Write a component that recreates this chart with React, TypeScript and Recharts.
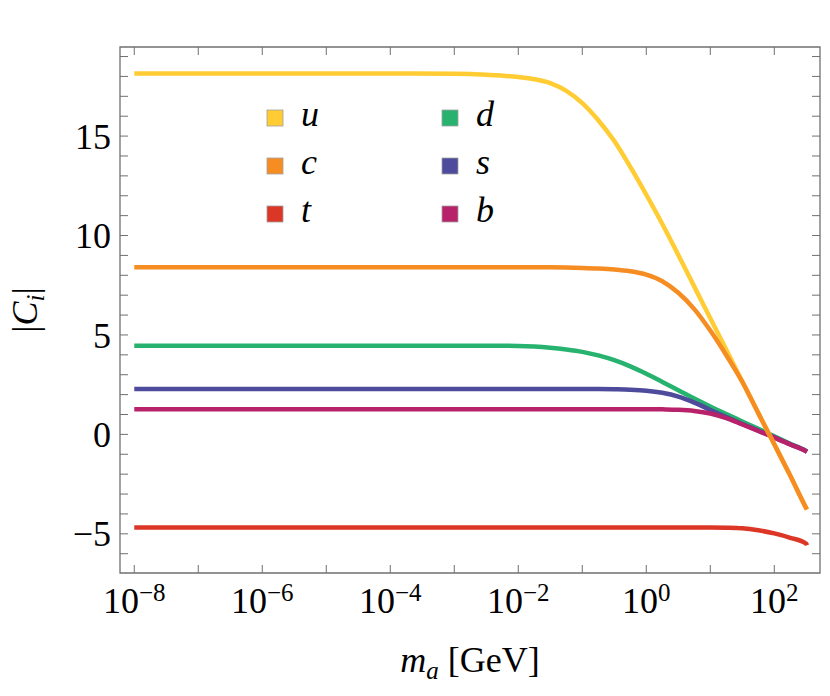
import { LineChart, Line, XAxis, YAxis, ReferenceArea, Legend } from 'recharts';

// log10(m_a / GeV) sample points
const LOG_MASS = [-8, -6, -4, -3, -2.5, -2, -1.75, -1.5, -1.25, -1, -0.75, -0.5, -0.25, 0, 0.25, 0.5, 0.75, 1, 1.25, 1.5, 1.75, 2, 2.25, 2.5, 2.51];

const C_U = [18.15, 18.15, 18.15, 18.13, 18.08, 17.97, 17.86, 17.66, 17.27, 16.66, 15.8, 14.75, 13.45, 12.05, 10.58, 9.02, 7.43, 5.84, 4.25, 2.66, 1.07, -0.5, -2.08, -3.72, -3.78];
const C_C = [8.4, 8.4, 8.4, 8.4, 8.4, 8.4, 8.4, 8.4, 8.39, 8.37, 8.34, 8.29, 8.2, 8.03, 7.7, 7.12, 6.3, 5.22, 3.98, 2.64, 1.07, -0.5, -2.08, -3.72, -3.78];
const C_T = [-4.68, -4.68, -4.68, -4.68, -4.68, -4.68, -4.68, -4.68, -4.68, -4.68, -4.68, -4.68, -4.68, -4.68, -4.68, -4.68, -4.68, -4.68, -4.69, -4.72, -4.82, -4.98, -5.2, -5.5, -5.57];
const C_D = [4.46, 4.46, 4.46, 4.46, 4.46, 4.45, 4.42, 4.36, 4.27, 4.15, 3.97, 3.73, 3.42, 3.05, 2.64, 2.22, 1.8, 1.4, 1.02, 0.65, 0.28, -0.1, -0.47, -0.84, -0.86];
const C_S = [2.28, 2.28, 2.28, 2.28, 2.28, 2.28, 2.28, 2.28, 2.28, 2.28, 2.28, 2.27, 2.25, 2.2, 2.09, 1.9, 1.6, 1.23, 0.87, 0.52, 0.19, -0.15, -0.5, -0.85, -0.87];
const C_B = [1.27, 1.27, 1.27, 1.27, 1.27, 1.27, 1.27, 1.27, 1.27, 1.27, 1.27, 1.27, 1.27, 1.27, 1.26, 1.24, 1.18, 1.05, 0.82, 0.5, 0.17, -0.16, -0.51, -0.86, -0.88];

const X_TICKS = [-8, -7, -6, -5, -4, -3, -2, -1, 0, 1, 2];
const Y_TICKS = [-6, -5, -4, -3, -2, -1, 0, 1, 2, 3, 4, 5, 6, 7, 8, 9, 10, 11, 12, 13, 14, 15, 16, 17, 18, 19];

const X_DOMAIN = [-8.223, 2.714];
const Y_DOMAIN = [-6.97, 19.48];

const SERIES = [
  { key: 'u', color: '#FFCC33', values: C_U },
  { key: 'c', color: '#F68D23', values: C_C },
  { key: 't', color: '#DC3626', values: C_T },
  { key: 'd', color: '#27B36F', values: C_D },
  { key: 's', color: '#4E4A9C', values: C_S },
  { key: 'b', color: '#B8226A', values: C_B },
];

// order in which curves are stacked (last on top)
const DRAW_ORDER = ['t', 'd', 's', 'b', 'u', 'c'];

const W = 830;
const H = 696;
const PLOT_TOP = 47;
const PLOT_RIGHT = 820;
const FRAME = '#707070';
const FONT = '"Liberation Serif", "DejaVu Serif", serif';

const data = LOG_MASS.map((x, i) => {
  const row: Record<string, number> = { x };
  SERIES.forEach((s) => {
    row[s.key] = s.values[i];
  });
  return row;
});

function XTick(props: any) {
  const { x, y, payload } = props;
  const v = payload.value as number;
  return (
    <g>
      <line x1={x} x2={x} y1={y} y2={y - 8} stroke={FRAME} strokeWidth={1} />
      <line x1={x} x2={x} y1={PLOT_TOP} y2={PLOT_TOP + 8} stroke={FRAME} strokeWidth={1} />
      {v % 2 === 0 && (
        <text x={x} y={y + 40} textAnchor="middle" fontFamily={FONT} fontSize={36} fill="#000">
          10
          <tspan dy={-12} fontSize={25}>
            {v < 0 ? `\u2212${-v}` : v}
          </tspan>
        </text>
      )}
    </g>
  );
}

function YTick(props: any) {
  const { x, y, payload } = props;
  const v = payload.value as number;
  return (
    <g>
      <line x1={x} x2={x + 8} y1={y} y2={y} stroke={FRAME} strokeWidth={1} />
      <line x1={PLOT_RIGHT} x2={PLOT_RIGHT - 8} y1={y} y2={y} stroke={FRAME} strokeWidth={1} />
      {v % 5 === 0 && (
        <text x={x - 9} y={y} dy="0.35em" textAnchor="end" fontFamily={FONT} fontSize={36} fill="#000">
          {v < 0 ? `\u2212${-v}` : v}
        </text>
      )}
    </g>
  );
}

function QuarkLegend() {
  const cols = [
    { boxX: 267, textX: 301, keys: ['u', 'c', 't'] },
    { boxX: 442, textX: 476, keys: ['d', 's', 'b'] },
  ];
  const rows = [118, 166, 214];
  return (
    <svg width={W} height={H} style={{ position: 'absolute', left: 0, top: 0, pointerEvents: 'none' }}>
      {cols.map((col) =>
        col.keys.map((k, r) => {
          const s = SERIES.find((q) => q.key === k)!;
          return (
            <g key={k}>
              <rect x={col.boxX} y={rows[r] - 8} width={16} height={16} fill={s.color} stroke="#a0a0a0" strokeWidth={0.8} />
              <text x={col.textX} y={rows[r] + 8} fontFamily={FONT} fontStyle="italic" fontSize={36} fill="#000">
                {k}
              </text>
            </g>
          );
        })
      )}
    </svg>
  );
}

export default function App() {
  return (
    <div style={{ position: 'absolute', left: 0, top: 0, background: '#fff' }}>
      <LineChart width={W} height={H} data={data} margin={{ top: PLOT_TOP, right: W - PLOT_RIGHT, bottom: 63, left: 60 }}>
        <XAxis
          dataKey="x"
          type="number"
          domain={X_DOMAIN}
          ticks={X_TICKS}
          allowDataOverflow
          interval={0}
          height={60}
          axisLine={false}
          tickLine={false}
          tickSize={0}
          tickMargin={0}
          tick={<XTick />}
          label={{
            content: () => (
              <text x={470} y={672} textAnchor="middle" fontFamily={FONT} fontSize={36} fill="#000">
                <tspan fontStyle="italic">m</tspan>
                <tspan fontStyle="italic" fontSize={25} dy={7}>a</tspan>
                <tspan dy={-7}> [GeV]</tspan>
              </text>
            ),
          }}
        />
        <YAxis
          type="number"
          domain={Y_DOMAIN}
          ticks={Y_TICKS}
          allowDataOverflow
          interval={0}
          width={60}
          axisLine={false}
          tickLine={false}
          tickSize={0}
          tickMargin={0}
          tick={<YTick />}
          label={{
            content: () => (
              <text x={37} y={310} transform="rotate(-90 37 310)" textAnchor="middle" fontFamily={FONT} fontSize={36} fill="#000">
                |<tspan fontStyle="italic">C</tspan>
                <tspan fontStyle="italic" fontSize={25} dy={7}>i</tspan>
                <tspan dy={-7}>|</tspan>
              </text>
            ),
          }}
        />
        <ReferenceArea
          x1={X_DOMAIN[0]}
          x2={X_DOMAIN[1]}
          y1={Y_DOMAIN[0]}
          y2={Y_DOMAIN[1]}
          fill="none"
          fillOpacity={0}
          stroke={FRAME}
          strokeWidth={1.3}
        />
        {DRAW_ORDER.map((k) => {
          const s = SERIES.find((q) => q.key === k)!;
          return (
            <Line
              key={k}
              type="monotone"
              dataKey={k}
              stroke={s.color}
              strokeWidth={4.5}
              dot={false}
              isAnimationActive={false}
            />
          );
        })}
        <Legend
          content={() => <QuarkLegend />}
          wrapperStyle={{ position: 'absolute', left: 0, top: 0, width: 0, height: 0 }}
        />
      </LineChart>
    </div>
  );
}
